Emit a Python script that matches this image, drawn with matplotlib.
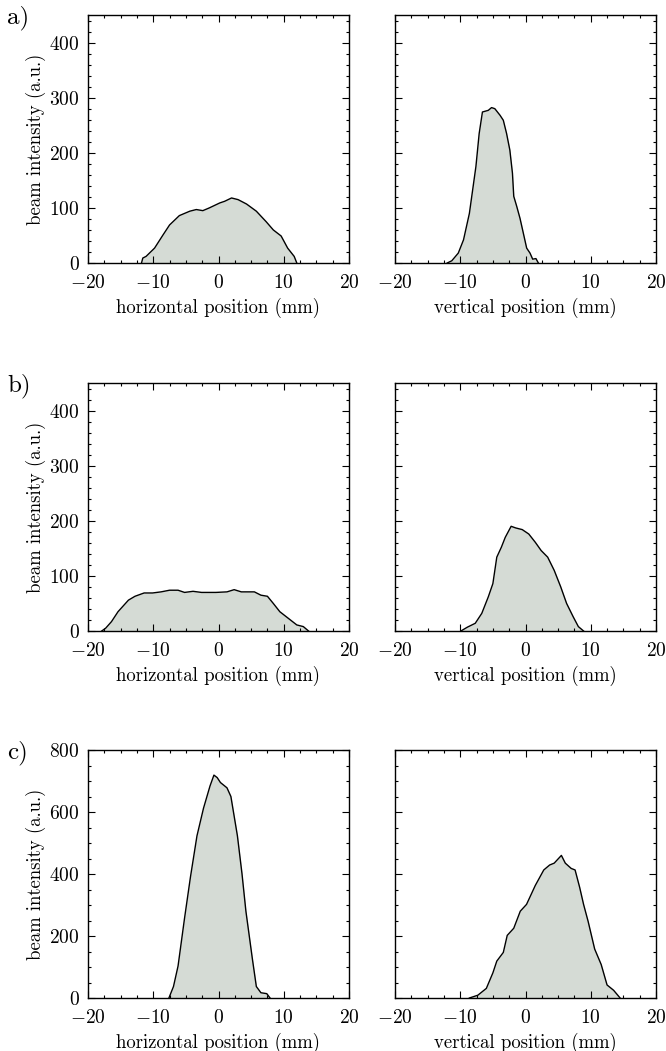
import matplotlib
matplotlib.use("Agg")
import matplotlib.pyplot as plt
from matplotlib.ticker import MultipleLocator

plt.rcParams["font.family"] = "serif"
plt.rcParams["font.serif"] = ["cmr10", "DejaVu Serif"]
plt.rcParams["mathtext.fontset"] = "cm"
plt.rcParams["axes.formatter.use_mathtext"] = True

# beam profiles: position (mm), intensity (a.u.)
a_h_x = [-11.8, -11.6, -11.1, -9.8, -8.5, -7.5, -6.0, -4.4, -3.4, -2.4, -1.4, 0.2, 0.95,
         2.0, 3.0, 4.3, 5.8, 7.3, 8.4, 9.6, 10.6, 11.6, 12.0]
a_h_y = [0, 9, 12, 27, 51, 69, 86, 94, 97, 95, 100, 109, 112, 118, 115, 107, 94, 75, 60,
         49, 27, 12, 0]

a_v_x = [-12.0, -11.3, -10.3, -9.5, -8.6, -7.6, -7.1, -6.6, -5.7, -5.2, -4.7, -3.9, -3.4,
         -2.9, -2.4, -2.0, -1.8, -1.35, -0.84, -0.33, 0.18, 0.69, 1.1, 1.6, 1.97]
a_v_y = [0, 4, 18, 42, 90, 175, 235, 274, 277, 282, 280, 268, 259, 235, 205, 163, 121,
         103, 81, 54, 27, 18, 7, 8, 0]

b_h_x = [-17.9, -17.3, -16.4, -15.4, -13.8, -12.8, -11.4, -10.1, -8.8, -7.5, -6.2, -5.2,
         -3.9, -2.6, -0.4, 1.3, 2.4, 3.5, 5.5, 6.5, 7.5, 8.4, 9.4, 10.7, 12.0, 13.0, 13.8]
b_h_y = [0, 5, 17, 35, 56, 63, 69, 69, 71, 74, 74, 70, 72, 70, 70, 71, 75, 71, 71, 65,
         63, 50, 35, 23, 11, 8, 0]

b_v_x = [-9.9, -8.9, -7.7, -6.7, -5.7, -5.0, -4.4, -3.7, -3.1, -2.2, -1.5, -0.5, 0.5, 1.5,
         2.4, 3.4, 4.4, 5.4, 6.3, 7.3, 8.1, 8.9]
b_v_y = [0, 7, 14, 32, 62, 86, 134, 152, 170, 190, 187, 184, 176, 161, 146, 134, 110, 80,
         50, 26, 8, 0]

c_h_x = [-7.6, -6.9, -6.2, -5.2, -4.3, -3.3, -2.3, -1.3, -0.7, -0.2, 0.3, 1.3, 1.9, 2.9,
         3.6, 4.2, 5.2, 5.8, 6.5, 7.4, 7.9]
c_h_y = [0, 37, 103, 258, 390, 523, 612, 684, 719, 711, 695, 678, 650, 523, 401, 280, 125,
         37, 17, 14, 0]

c_v_x = [-8.6, -7.3, -6.0, -5.0, -4.4, -3.4, -2.8, -1.8, -0.8, 0.16, 1.5, 2.8, 3.7, 4.4,
         5.5, 6.1, 7.0, 7.6, 8.3, 8.9, 9.6, 10.6, 11.6, 12.5, 13.5, 14.5]
c_v_y = [0, 9, 31, 81, 119, 147, 202, 225, 280, 302, 363, 413, 429, 435, 460, 435, 418,
         413, 357, 302, 247, 158, 108, 42, 25, 0]

rows = [
    ("a)", (a_h_x, a_h_y), (a_v_x, a_v_y), 450, 100, 20),
    ("b)", (b_h_x, b_h_y), (b_v_x, b_v_y), 450, 100, 20),
    ("c)", (c_h_x, c_h_y), (c_v_x, c_v_y), 800, 200, 50),
]

W, H = 666, 1051
fig = plt.figure(figsize=(W / 100, H / 100), dpi=100)

tops = [15, 383, 750]
ax_h = 248
for (label, hor, ver, ymax, ymaj, ymin), top in zip(rows, tops):
    bottom = 1 - (top + ax_h) / H
    for k, (left, (xs, ys), xlabel) in enumerate(
            ((88, hor, "horizontal position (mm)"), (395, ver, "vertical position (mm)"))):
        ax = fig.add_axes([left / W, bottom, 261 / W, ax_h / H])
        ax.fill_between(xs, ys, 0, color="#d5dbd5", lw=0)
        ax.plot(xs, ys, color="black", lw=1.0)
        ax.set_xlim(-20, 20)
        ax.set_ylim(0, ymax)
        ax.xaxis.set_major_locator(MultipleLocator(10))
        ax.xaxis.set_minor_locator(MultipleLocator(2.5))
        ax.yaxis.set_major_locator(MultipleLocator(ymaj))
        ax.yaxis.set_minor_locator(MultipleLocator(ymin))
        ax.tick_params(which="both", direction="in", top=True, right=True,
                       labelsize=14, width=0.8)
        ax.tick_params(axis="x", pad=8)
        ax.tick_params(axis="y", pad=6)
        ax.tick_params(which="major", length=5)
        ax.tick_params(which="minor", length=2.5)
        for s in ax.spines.values():
            s.set_linewidth(1.0)
        ax.set_xlabel(xlabel, fontsize=13.5, labelpad=4)
        if k == 0:
            ax.set_ylabel("beam intensity (a.u.)", fontsize=13.5, labelpad=2)
        else:
            ax.tick_params(labelleft=False)
    fig.text(7 / W, 1 - (top + 3) / H, label, fontsize=18, va="center", ha="left")

fig.savefig("out.png", dpi=100)
